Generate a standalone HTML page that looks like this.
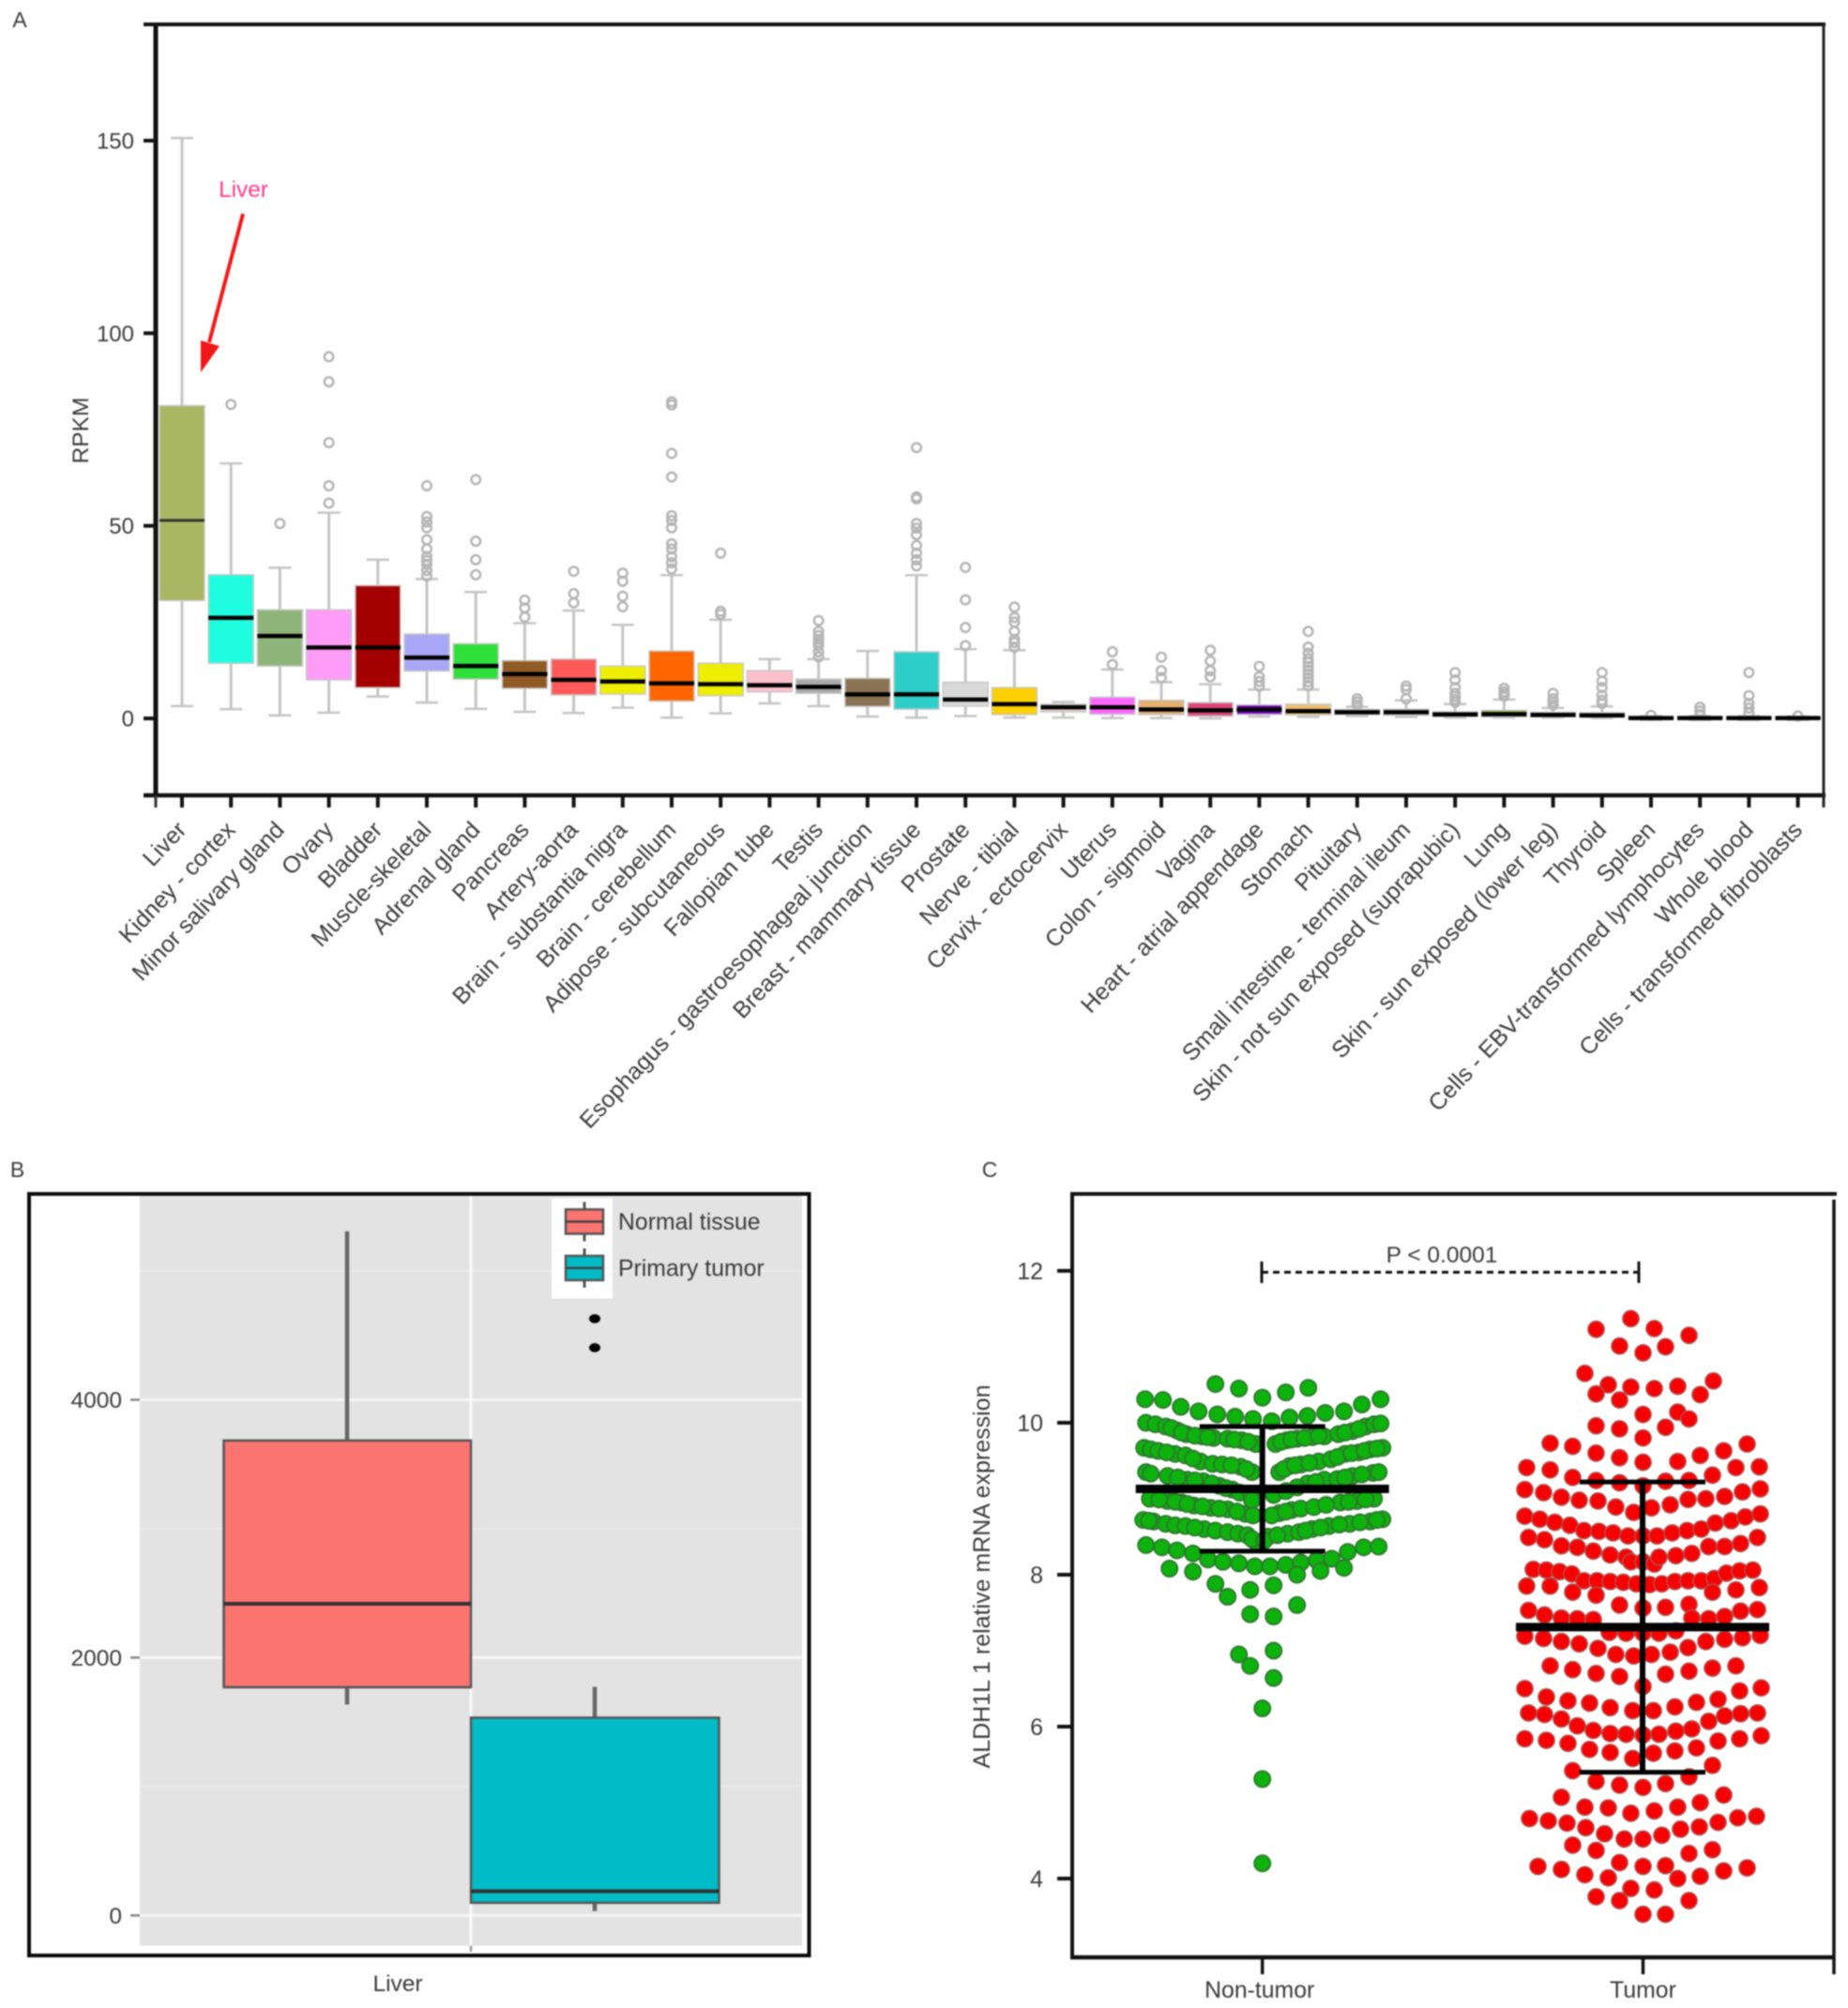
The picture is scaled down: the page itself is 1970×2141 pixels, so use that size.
<!DOCTYPE html>
<html lang="en">
<head>
<meta charset="utf-8">
<title>ALDH1L1 expression panels</title>
<style>
html,body{margin:0;padding:0;background:#fff;}
#figure{display:block;width:1970px;height:2141px;filter:blur(0.9px);font-family:"Liberation Sans",sans-serif;}
</style>
</head>
<body>
<svg id="figure" xmlns="http://www.w3.org/2000/svg" width="1970" height="2141" viewBox="0 0 1970 2141">
  <rect x="0" y="0" width="1970" height="2141" fill="#fff"/>
  <g id="panelA"></g>
  <g id="panelB"></g>
  <g id="panelC"></g>
</svg>
<script>
/* ---------- Panel A data ---------- */
const tissueNames = ["Liver","Kidney - cortex","Minor salivary gland","Ovary","Bladder","Muscle-skeletal","Adrenal gland","Pancreas","Artery-aorta","Brain - substantia nigra","Brain - cerebellum","Adipose - subcutaneous","Fallopian tube","Testis","Esophagus - gastroesophageal junction","Breast - mammary tissue","Prostate","Nerve - tibial","Cervix - ectocervix","Uterus","Colon - sigmoid","Vagina","Heart - atrial appendage","Stomach","Pituitary","Small intestine - terminal ileum","Skin - not sun exposed (suprapubic)","Lung","Skin - sun exposed (lower leg)","Thyroid","Spleen","Cells - EBV-transformed lymphocytes","Whole blood","Cells - transformed fibroblasts"];
const tissueWhiskerHigh = [150.7,66.2,39.1,53.4,41.2,36.2,32.8,24.7,28,24.3,37.2,25.6,15.4,15.4,17.5,37.2,18,17.7,4.3,12.7,9.4,8.9,7.5,7.5,3,4.7,3.7,4.9,2.7,3.1,0.6,0.6,0.6,0.5];
const tissueQ3 = [81.2,37.3,28.2,28.2,34.5,21.9,19.4,15,15.4,13.6,17.5,14.3,12.4,10.2,10.4,17.3,9.4,8,3.7,5.5,4.7,4.1,3.5,3.7,2.3,2.4,1.7,2.1,1.6,1.5,0.4,0.4,0.4,0.4];
const tissueMedian = [51.4,26.1,21.4,18.4,18.4,15.8,13.6,11.5,10,9.6,9.1,8.9,8.6,8.2,6.25,6.25,4.9,3.7,2.9,2.9,2.3,2.1,2.3,1.9,1.6,1.6,1.05,1.1,0.9,0.8,0.1,0.1,0.1,0.1];
const tissueQ1 = [30.6,14.3,13.6,10,8,12.3,10.2,7.8,6.1,6.3,4.5,5.9,6.9,6.5,3.1,2.4,3.2,1,1.7,1.1,1,0.6,1.05,0.9,1,0.8,0.5,0.4,0.4,0.3,-0.2,-0.2,-0.2,-0.2];
const tissueWhiskerLow = [3.2,2.4,0.8,1.5,5.7,4.1,2.5,1.7,1.4,2.8,0.2,1.3,3.9,3.2,0.5,0.2,0.6,0.2,0.2,0.1,0.1,0,0.5,0.4,0.6,0.4,0.2,0.2,0.2,0.1,-0.4,-0.4,-0.4,-0.4];
const tissueOutliers = [
 [],[81.5],[50.6],[93.9,87.4,71.6,60.4,55.9],[],
 [60.4,52.4,51,49.5,46.4,44,42,41,40,38.4,37],[62,46,41.2,37.3],[30.7,28.7,26.3],[38.2,32.4,30],[37.7,35.6,31.7,29],
 [82.2,81.4,68.8,62.7,52.6,51.4,49.5,45.3,44,42,40.4,38.8],[42.9,27.8,27],[],[25.4,22.6,21.5,20.5,19.7,18.9,17.3,16],[],
 [70.3,57.5,57,50.6,49.4,47.7,44.9,42.9,41.2,39.6],[39.2,30.8,23.6,18.9],[28.9,26.2,25,22.6,20.5,19.7,18.5],[],[17.3,14],
 [15.9,12.4,10.6],[17.7,14.9,12.4,10.8],[13.5,10.8,9.6,8.4],[22.6,18.5,16.9,15.5,14.5,13.5,12.5,11.5,10.5,9.5,8.5],[5.1,4.3,3.5],
 [8.4,7.5,5.1],[11.9,10,8,6.5,5.7,4.9,4.2],[7.8,6.9,6.2,5.8],[6.5,5.1,4.3,3.5],[11.9,9.7,8,6,4.7,3.9],
 [0.8],[2.9,1.9,1],[11.9,5.9,3.9,2.7,1.4],[0.6]
];
const tissueColors = ["#a9b762","#1fffe0","#8fb47a","#ff9cf8","#a50000","#a7a7f5","#2fe03a","#8f5a24","#ff5a5a","#eeee00","#ff6600","#eeee00","#ffc0cb","#aaaaaa","#8b7355","#2fcfc9","#d9d9d9","#ffd000","#e8d0d4","#ff66ff","#e5b070","#e0457a","#7a00cc","#f0c070","#dddddd","#dddddd","#3a30b0","#80b030","#cccccc","#cccccc","#999999","#999999","#ff88cc","#999999"];
const rpkmTicks = [0,50,100,150];

/* ---------- Panel B data ---------- */
const liverGroups = ["Normal tissue","Primary tumor"];
const liverWhiskerHigh = [5307,1773];
const liverQ3 = [3684,1534];
const liverMedian = [2418,188];
const liverQ1 = [1770,98];
const liverWhiskerLow = [1636,34];
const liverOutliers = [[],[4629,4404]];
const liverMajorTicks = [0,2000,4000];
const liverMinorTicks = [1000,3000,5000];

/* ---------- Panel C data ---------- */
const swarmGroups = ["Non-tumor","Tumor"];
const swarmTicks = [4,6,8,10,12];
const nonTumorValues = [10.51,10.45,10.33,10.40,10.46,
10.31,10.30,10.21,10.15,10.11,10.08,10.05,10.02,10.07,10.09,10.13,10.15,10.24,10.31,
10.0,9.98,9.95,9.90,9.85,9.82,9.80,9.79,9.77,9.72,9.72,9.77,9.79,9.81,9.82,9.85,9.89,9.95,9.98,9.99,
9.93,9.87,9.83,9.81,9.78,9.75,9.75,9.78,9.80,9.83,9.87,9.92,
9.67,9.65,9.63,9.59,9.57,9.49,9.46,9.45,9.42,9.35,9.35,9.43,9.45,9.49,9.52,9.59,9.61,9.65,9.67,
9.61,9.53,9.44,9.39,9.39,9.44,9.47,9.55,9.60,9.63,9.66,
9.35,9.33,9.30,9.25,9.23,9.17,9.12,9.20,9.25,9.26,9.30,9.34,9.35,
9.28,9.24,9.20,9.14,9.08,9.05,9.05,9.10,9.15,9.22,9.28,9.32,
9.0,8.97,8.95,8.91,8.88,8.86,8.80,8.98,8.81,8.85,8.87,8.89,8.95,8.97,9.0,
8.99,8.96,8.93,8.90,8.87,8.83,8.78,8.78,8.83,8.92,8.96,8.99,
8.72,8.70,8.67,8.65,8.64,8.60,8.58,8.56,8.54,8.52,8.42,8.50,8.54,8.56,8.60,8.64,8.67,8.70,8.73,
8.71,8.62,8.47,8.45,8.52,8.58,8.62,8.66,8.69,8.72,
8.39,8.36,8.32,8.28,8.20,8.17,8.15,8.11,8.11,8.13,8.16,8.19,8.21,8.30,8.36,8.37,
8.08,8.04,8.0,8.05,8.09,
7.88,7.71,7.80,7.86,7.60,7.48,7.45,7.0,6.95,6.80,6.64,6.24,5.31,4.2];
const nonTumorJitter = [-5,-2.5,0,2.5,4.9,
-12.5,-10.6,-8.7,-6.8,-4.8,-2.9,-1,1,2.9,4.8,6.7,8.7,10.6,12.6,
-12.4,-11.4,-10.3,-9.1,-8.1,-6.4,-5.2,-3.7,-2.2,-0.7,1.4,2.6,3.7,5.3,6.6,8.1,9.6,11,11.9,12.6,
-9.7,-8.6,-7.2,-5.8,-3,-1.5,2,3.1,4.5,6,8.8,10.3,
-12.6,-11.9,-11.1,-9.3,-8.2,-6.6,-5.3,-4.3,-2.3,-1.1,1.8,2.9,4.1,6,7.3,8.8,10.3,11.5,12.8,
-10.2,-7.4,-3.3,-1.7,2.3,3.5,5,8,9.5,10.9,12.2,
-12.4,-11.9,-10.1,-8,-6.3,-4.6,-3.2,4.8,6.6,8,9.6,11.8,12.4,
-9,-7.2,-5.4,-3.9,-2.4,-1.2,1.2,2.5,3.7,5.7,8.8,10.6,
-12,-10.1,-8.6,-7.3,-5.5,-3.7,-1.8,-1.1,1.8,3.1,4.1,5.5,8.3,10.1,11.9,
-11,-9.3,-8,-6.4,-4.6,-2.7,-1,1,2.5,6.8,9.2,11,
-12.7,-11.6,-10.3,-9.3,-8.2,-6.2,-5,-3.7,-2.6,-1.6,-0.6,0.6,2.7,3.9,5.3,7.1,9.3,11.5,12.8,
-12.1,-7.2,-1.1,0.2,1.6,4.6,6.2,8.2,10.4,12.2,
-12.4,-10.7,-9.1,-7.4,-5.8,-4.2,-2.5,-0.8,0.8,2.5,4.1,5.8,7.4,9.1,10.8,12.4,
-9.9,-7.4,3.7,6.2,8.7,
-5,-3.7,-1.3,1.2,3.7,-1.3,1.2,1.2,-2.5,-1.3,1.2,0,0,0];
const tumorValues = [11.37,11.23,11.24,11.15,11.01,11.00,10.92,
10.65,10.55,10.50,10.47,10.45,10.48,10.38,10.37,10.30,
10.11,10.14,10.05,9.96,9.92,9.94,9.80,
9.73,9.69,9.72,9.63,9.60,9.54,9.57,9.48,9.49,
9.41,9.38,9.28,9.24,9.21,9.17,9.23,9.24,9.31,9.41,9.42,
9.12,9.08,9.02,8.98,8.97,8.89,8.82,8.88,8.92,8.99,9.00,9.03,9.09,9.13,
8.77,8.73,8.69,8.65,8.58,8.57,8.55,8.51,8.51,8.51,8.55,8.58,8.60,8.68,8.71,8.76,8.80,
8.49,8.46,8.38,8.36,8.31,8.26,8.23,8.17,8.17,8.14,8.23,8.25,8.28,8.37,8.37,8.41,8.49,
8.07,8.06,8.04,8.01,7.92,7.92,7.91,7.90,7.88,7.87,7.88,7.91,7.92,7.92,7.95,8.02,8.05,8.06,
7.85,7.85,7.77,7.73,7.77,7.80,7.83,
7.60,7.56,7.57,7.61,
7.53,7.47,7.43,7.42,7.41,7.43,7.42,7.45,7.52,7.54,
7.24,7.23,7.23,7.23,7.26,
7.19,7.16,7.12,7.09,7.03,6.95,6.93,6.95,6.98,7.04,7.12,7.15,7.17,7.20,
6.80,6.75,6.70,6.66,6.69,6.73,6.77,6.80,
6.50,6.53,6.39,6.34,6.31,6.47,6.51,6.36,6.32,
6.25,6.21,6.21,6.26,
6.18,6.16,6.10,6.01,5.95,5.91,5.90,5.89,5.90,5.94,5.97,6.07,6.14,6.17,6.18,
5.84,5.82,5.78,5.70,5.66,5.58,5.65,5.68,5.72,5.81,5.84,5.88,
5.42,5.49,5.28,5.23,5.20,5.25,5.34,
5.07,5.10,5.0,4.94,4.93,4.86,4.89,4.94,
4.79,4.76,4.73,4.67,4.59,4.52,4.52,4.57,4.65,4.68,4.74,4.80,4.82,
4.44,4.37,4.33,4.38,
4.21,4.16,4.17,4.16,4.12,4.05,4.01,4.0,4.03,4.10,4.14,
3.87,3.85,3.76,3.71,3.71,
3.53,3.53];
const tumorJitter = [-1.3,-5,1.2,4.9,-2.5,2.4,0,
-6.2,7.5,-3.7,-1.3,1.2,3.7,-5,6.1,-2.5,
0,3.7,4.9,-5,-2.5,2.4,0,
-9.9,-7.5,11.1,8.6,-5,-2.5,6.1,0,3.7,
-12.4,-9.9,-7.5,-5,-2.5,0,2.4,4.9,7.4,9.9,12.4,
-12.6,-10.6,-8.7,-6.8,-4.8,-2.9,-1,0.9,2.9,4.8,6.7,8.7,10.6,12.5,
-12.6,-11,-9.4,-7.8,-6.3,-4.7,-3.2,-1.6,0,1.5,3.1,4.7,6.2,7.7,9.4,10.9,12.5,
-12.2,-10.5,-8.7,-7,-5.3,-3.5,-1.8,-1.3,0,1.2,1.7,3.5,5.2,7,8.7,10.4,12.2,
-11.7,-10.3,-8.9,-7.6,-6.3,-4.9,-3.5,-2.1,-0.7,0.7,2,3.4,4.8,6.2,7.6,8.9,10.3,11.7,
-12.4,-9.9,-7.5,-5,7.4,9.9,12.4,
-2.5,0,2.4,4.9,
-12.2,-10.5,-8.7,-7,-5.3,5.2,7,8.7,10.4,12.2,
-3.6,-1.8,0,1.7,3.5,
-12.6,-10.6,-8.7,-6.8,-4.8,-2.9,-1,0.9,2.9,4.8,6.7,8.7,10.6,12.5,
-9.9,-7.5,-5,-2.5,2.4,4.9,7.4,9.9,
-12.6,0,-10.3,-8,-5.7,10.3,12.6,8,5.7,
-3.5,-1.1,1.1,3.4,
-12.2,-10.5,-8.7,-7,-5.3,-3.5,-1.8,0,1.7,3.5,5.2,7,8.7,10.4,12.2,
-12.6,-10.3,-8,-5.7,-3.5,-1.1,1.1,3.4,5.7,8,10.3,12.6,
-7.5,7.4,-5,-2.5,0,2.4,4.9,
-8.7,8.6,6.1,-6.2,-3.7,-1.3,1.2,3.7,
-12.1,-10.1,-8.1,-6.1,-4.1,-2,0,2,4,6,8,10.1,12.1,
-7.5,-5,4.9,7.4,
-2.5,0,2.4,-11.2,-8.7,-6.2,-3.7,3.7,6.1,8.6,11.1,
-1.3,1.2,-5,-2.5,4.9,
0,2.4];
const swarmMeans = [9.13,7.31];
const swarmUpper = [9.95,9.22];
const swarmLower = [8.31,5.40];
const pValueLabel = "P < 0.0001";

/* ---------- helpers ---------- */
const SVGNS = "http://www.w3.org/2000/svg";
function add(parent, tag, attrs, name, text) {
  const el = document.createElementNS(SVGNS, tag);
  for (const k in attrs) el.setAttribute(k, attrs[k]);
  
  
  if (text !== undefined) el.textContent = text;
  parent.appendChild(el);
  return el;
}
function line(p, x1, y1, x2, y2, stroke, w, name, extra) {
  return add(p, 'line', Object.assign({x1, y1, x2, y2, stroke, 'stroke-width': w}, extra || {}), name);
}
function slug(s) { return s.toLowerCase().replace(/[^a-z0-9]+/g, '-').replace(/^-|-$/g, ''); }
const TEXT = "#3a3a3a";
const FONT = '"Liberation Sans", sans-serif';

/* ---------- Panel A ---------- */
(function () {
  const g = document.getElementById('panelA');
  const xA = i => 194 + i * 52.2;
  const yA = v => 766 - 4.107 * v;
  add(g, 'text', {x: 21, y: 29, 'font-size': 23, fill: TEXT, 'text-anchor': 'middle', 'font-family': FONT}, 'panel-a-letter', 'A');

  tissueNames.forEach((name, i) => {
    const s = slug(name), x = xA(i), hw = 24;
    line(g, x, yA(tissueWhiskerHigh[i]), x, yA(tissueWhiskerLow[i]), '#c4c4c4', 3, 'whisker-' + s);
    line(g, x - 12, yA(tissueWhiskerHigh[i]), x + 12, yA(tissueWhiskerHigh[i]), '#c4c4c4', 2.5, 'whisker-cap-high-' + s);
    line(g, x - 12, yA(tissueWhiskerLow[i]), x + 12, yA(tissueWhiskerLow[i]), '#c4c4c4', 2.5, 'whisker-cap-low-' + s);
    tissueOutliers[i].forEach(v => {
      add(g, 'circle', {cx: x, cy: yA(v), r: 4.8, fill: 'none', stroke: '#b5b5b5', 'stroke-width': 2.5}, 'outlier-' + s);
    });
    add(g, 'rect', {x: x - hw, y: yA(tissueQ3[i]), width: hw * 2, height: yA(tissueQ1[i]) - yA(tissueQ3[i]), fill: tissueColors[i], stroke: '#c8c8c8', 'stroke-width': 1.5}, 'box-' + s);
    line(g, x - hw, yA(tissueMedian[i]), x + hw, yA(tissueMedian[i]), i === 0 ? '#333' : '#000', i === 0 ? 3 : 4.5, 'median-' + s);
    line(g, x, 848, x, 861, '#111', 4, 'x-tick-' + s);
    add(g, 'text', {x: x + 6, y: 886, transform: 'rotate(-46.5 ' + (x + 6) + ' 886)', 'text-anchor': 'end', 'font-size': 25, fill: TEXT, 'font-family': FONT}, 'x-label-' + s, name);
  });

  line(g, 166, 24, 166, 850, '#111', 5, 'y-axis-line');
  line(g, 153, 26, 1946, 26, '#111', 4, 'top-frame-line');
  line(g, 153, 848, 1946, 848, '#111', 4.5, 'x-axis-line');
  line(g, 1944, 26, 1944, 861, '#222', 3, 'right-frame-line');
  line(g, 166, 848, 166, 861, '#333', 3, 'x-axis-left-end-tick');

  rpkmTicks.forEach(t => {
    line(g, 153, yA(t), 166, yA(t), '#111', 4, 'y-tick-' + t);
    add(g, 'text', {x: 143, y: yA(t) + 8.5, 'text-anchor': 'end', 'font-size': 24, fill: TEXT, 'font-family': FONT}, 'y-tick-label-' + t, t);
  });
  add(g, 'text', {x: 0, y: 0, transform: 'translate(94 459) rotate(-90)', 'text-anchor': 'middle', 'font-size': 24.5, fill: TEXT, 'font-family': FONT}, 'y-axis-title', 'RPKM');

  add(g, 'text', {x: 259.5, y: 210, 'text-anchor': 'middle', 'font-size': 24.4, fill: '#ff3c8c', 'font-family': FONT}, 'liver-annotation-label', 'Liver');
  line(g, 259, 228, 223, 365, '#f01818', 4, 'liver-arrow-shaft');
  add(g, 'polygon', {points: '214,397 214,363 234,369', fill: '#f01818'}, 'liver-arrow-head');
})();

/* ---------- Panel B ---------- */
(function () {
  const g = document.getElementById('panelB');
  const yB = v => 2042.3 - 0.13745 * v;
  const boxEdges = [[238.5, 502], [502, 766.5]];
  const fills = ['#fb7470', '#00bcc6'];
  add(g, 'text', {x: 18.5, y: 1255, 'font-size': 23, fill: TEXT, 'text-anchor': 'middle', 'font-family': FONT}, 'panel-b-letter', 'B');
  add(g, 'rect', {x: 149, y: 1275, width: 706, height: 799.6, fill: '#e3e3e3'}, 'plot-background');
  liverMinorTicks.forEach(t => {
    line(g, 149, yB(t), 855, yB(t), '#ececec', 1.5, 'minor-gridline-' + t);
  });
  liverMajorTicks.forEach(t => {
    line(g, 149, yB(t), 855, yB(t), '#f6f6f6', 3, 'major-gridline-' + t);
    line(g, 139, yB(t), 149, yB(t), '#888', 2.5, 'y-tick-' + t);
    add(g, 'text', {x: 130, y: yB(t) + 8.5, 'text-anchor': 'end', 'font-size': 24.5, fill: TEXT, 'font-family': FONT}, 'y-tick-label-' + t, t);
  });
  line(g, 502, 1275, 502, 2074.6, '#fafafa', 3, 'vertical-gridline');
  line(g, 502, 2074.6, 502, 2081, '#999', 2.5, 'x-tick');

  liverGroups.forEach((name, i) => {
    const s = slug(name), x0 = boxEdges[i][0], x1 = boxEdges[i][1], cx = i === 0 ? 370 : 634;
    line(g, cx, yB(liverWhiskerHigh[i]), cx, yB(liverWhiskerLow[i]), '#666', 4.5, 'whisker-' + s);
    add(g, 'rect', {x: x0, y: yB(liverQ3[i]), width: x1 - x0, height: yB(liverQ1[i]) - yB(liverQ3[i]), fill: fills[i], stroke: '#555', 'stroke-width': 2.5}, 'box-' + s);
    line(g, x0, yB(liverMedian[i]), x1, yB(liverMedian[i]), '#333', 4, 'median-' + s);
    liverOutliers[i].forEach(v => {
      add(g, 'ellipse', {cx, cy: yB(v), rx: 6, ry: 4.8, fill: '#000'}, 'outlier-' + s);
    });
  });

  add(g, 'rect', {x: 588, y: 1277.6, width: 65, height: 107, fill: '#fff'}, 'legend-background');
  const keyY = [1302.5, 1352];
  liverGroups.forEach((name, i) => {
    const s = slug(name), y = keyY[i];
    line(g, 623, y - 21, 623, y + 21, '#555', 3, 'legend-whisker-' + s);
    add(g, 'rect', {x: 603, y: y - 13, width: 40, height: 26, fill: fills[i], stroke: '#555', 'stroke-width': 2.5}, 'legend-swatch-' + s);
    line(g, 603, y, 643, y, '#444', 2.5, 'legend-median-' + s);
    add(g, 'text', {x: 659, y: y + 8.5, 'font-size': 24.8, fill: TEXT, 'font-family': FONT}, 'legend-label-' + s, name);
  });

  add(g, 'rect', {x: 31, y: 1273, width: 831.5, height: 812, fill: 'none', stroke: '#0a0a0a', 'stroke-width': 4}, 'panel-frame');
  add(g, 'text', {x: 424, y: 2123, 'text-anchor': 'middle', 'font-size': 24.5, fill: TEXT, 'font-family': FONT}, 'x-label-liver', 'Liver');
})();

/* ---------- Panel C ---------- */
(function () {
  const g = document.getElementById('panelC');
  const yC = v => 1355 + (12 - v) * 81;
  const xC = i => i === 0 ? 1345.7 : 1751.5;
  const jitterX = (i, j) => xC(i) + j * 10;

  add(g, 'text', {x: 1055, y: 1255, 'font-size': 23, fill: TEXT, 'text-anchor': 'middle', 'font-family': FONT}, 'panel-c-letter', 'C');

  line(g, 1143, 1271, 1143, 2089, '#111', 4, 'y-axis-line');
  line(g, 1141, 1273, 1958, 1273, '#111', 4, 'top-frame-line');
  line(g, 1955, 1279, 1955, 2105, '#111', 3.5, 'right-frame-line');
  line(g, 1141, 2087, 1955, 2087, '#111', 4.5, 'x-axis-line');

  swarmTicks.forEach(t => {
    line(g, 1127, yC(t), 1143, yC(t), '#111', 4, 'y-tick-' + t);
    add(g, 'text', {x: 1112, y: yC(t) + 9, 'text-anchor': 'end', 'font-size': 25, fill: TEXT, 'font-family': FONT}, 'y-tick-label-' + t, t);
  });
  add(g, 'text', {x: 0, y: 0, transform: 'translate(1055 1681) rotate(-90)', 'text-anchor': 'middle', 'font-size': 25, fill: TEXT, 'font-family': FONT}, 'y-axis-title', 'ALDH1L 1 relative mRNA expression');

  swarmGroups.forEach((name, i) => {
    const s = slug(name);
    line(g, xC(i), 2087, xC(i), 2105, '#111', 3.5, 'x-tick-' + s);
    add(g, 'text', {x: xC(i) - 3 + (i ? 3 : 0), y: 2130, 'text-anchor': 'middle', 'font-size': 24.8, fill: TEXT, 'font-family': FONT}, 'x-label-' + s, name);
  });

  nonTumorValues.forEach((v, k) => {
    add(g, 'circle', {cx: jitterX(0, nonTumorJitter[k]), cy: yC(v), r: 8.5, fill: '#0db20d', stroke: '#2d7a2d', 'stroke-width': 2}, 'non-tumor-point');
  });
  tumorValues.forEach((v, k) => {
    add(g, 'circle', {cx: jitterX(1, tumorJitter[k]), cy: yC(v), r: 8.6, fill: '#f80000', stroke: '#b05050', 'stroke-width': 1.5}, 'tumor-point');
  });

  swarmGroups.forEach((name, i) => {
    const s = slug(name), x = xC(i) - (i ? 0.5 : 0);
    line(g, x, yC(swarmUpper[i]), x, yC(swarmLower[i]), '#000', 6, 'error-bar-' + s);
    line(g, x - 135, yC(swarmMeans[i]), x + 135, yC(swarmMeans[i]), '#000', 9, 'mean-bar-' + s);
    line(g, x - 67, yC(swarmUpper[i]), x + 67, yC(swarmUpper[i]), '#000', 5, 'upper-cap-' + s);
    line(g, x - 67, yC(swarmLower[i]), x + 67, yC(swarmLower[i]), '#000', 5, 'lower-cap-' + s);
  });

  line(g, 1345, 1356.5, 1747, 1356.5, '#111', 3, 'significance-bracket', {'stroke-dasharray': '7 5'});
  line(g, 1345, 1345, 1345, 1368, '#111', 3, 'significance-cap-left');
  line(g, 1747, 1345, 1747, 1368, '#111', 3, 'significance-cap-right');
  add(g, 'text', {x: 1537, y: 1346, 'text-anchor': 'middle', 'font-size': 24.5, fill: TEXT, 'font-family': FONT}, 'p-value-label', pValueLabel);
})();
</script>
</body>
</html>
